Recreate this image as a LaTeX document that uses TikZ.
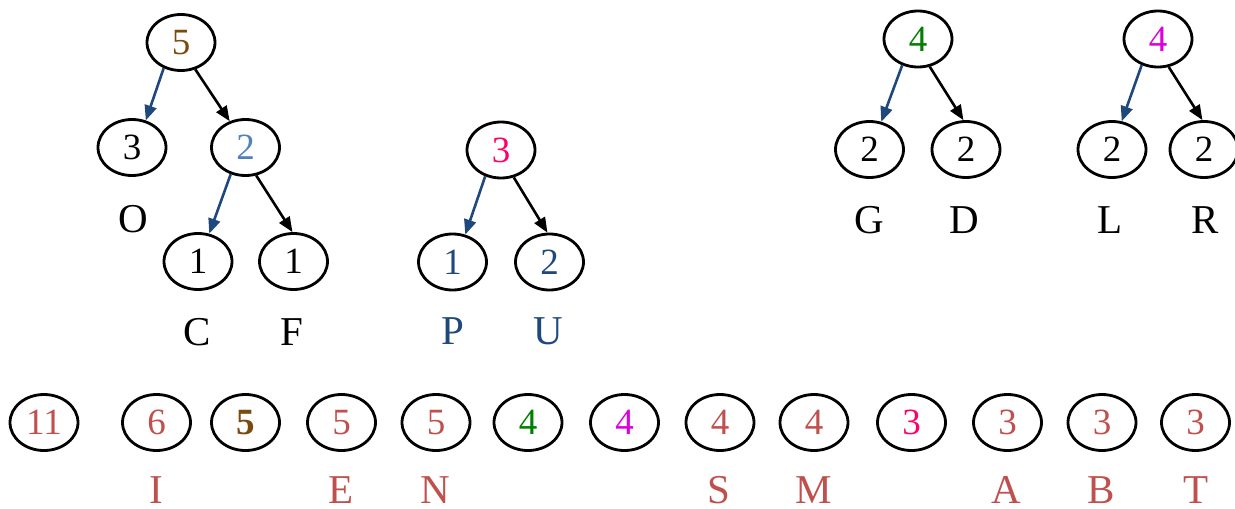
\documentclass[tikz,border=0pt]{standalone}
\usepackage{fontspec}
\setmainfont{Liberation Serif}
\usetikzlibrary{arrows.meta,shapes.geometric}

\definecolor{wred}{HTML}{C0504D}
\definecolor{wbrown}{HTML}{7A4A0F}
\definecolor{wpink}{HTML}{FF0066}
\definecolor{wgreen}{HTML}{008000}
\definecolor{wmagenta}{HTML}{DD00DD}
\definecolor{wlightblue}{HTML}{4F81BD}
\definecolor{wdarkblue}{HTML}{1F497D}

\tikzset{
  wnode/.style={ellipse, draw=black, line width=2.8pt, minimum width=68pt,
    minimum height=56pt, inner sep=0pt, font=\fontsize{37}{40}\selectfont},
  letter/.style={inner sep=0pt, font=\fontsize{41}{44}\selectfont},
  leftarr/.style={draw=wdarkblue, line width=2.6pt, -{Triangle[length=15pt,width=12pt]}},
  rightarr/.style={draw=black, line width=2.6pt, -{Triangle[length=15pt,width=12pt]}},
}

\begin{document}
\begin{tikzpicture}[x=1pt,y=-1pt]
\useasboundingbox (0,0) rectangle (1235,509);

% tree: 5 -> 3 (O), 2 -> 1 (C), 1 (F)
\node[wnode, text=wbrown] (a5) at (181,42.5) {5};
\node[wnode] (a3) at (132,147.5) {3};
\node[wnode, text=wlightblue] (a2) at (245.5,147.5) {2};
\node[wnode] (a1) at (198,261.5) {1};
\node[wnode] (b1) at (293.5,261.5) {1};
\node[letter] (lO) at (133,219) {O};
\node[letter] (lC) at (197,332.5) {C};
\node[letter] (lF) at (292,332.5) {F};
\draw[leftarr] (a5.236.8) -- (a3.63.8);
\draw[rightarr] (a5.298.6) -- (a2.121.2);
\draw[leftarr] (a2.241.8) -- (a1.68.2);
\draw[rightarr] (a2.291.4) -- (b1.92.6);

% tree: 3 -> 1 (P), 2 (U)
\node[wnode, text=wpink] (c3) at (501,150) {3};
\node[wnode, text=wdarkblue] (c1) at (452.5,262) {1};
\node[wnode, text=wdarkblue] (c2) at (549.5,262) {2};
\node[letter, text=wdarkblue] (lP) at (453,331) {P};
\node[letter, text=wdarkblue] (lU) at (548,331) {U};
\draw[leftarr] (c3.239.3) -- (c1.65.5);
\draw[rightarr] (c3.295.1) -- (c2.94.2);

% tree: 4 -> 2 (G), 2 (D)
\node[wnode, text=wgreen] (d4) at (918,39) {4};
\node[wnode] (d2a) at (869.5,149.5) {2};
\node[wnode] (d2b) at (966,149.5) {2};
\node[letter] (lG) at (869,220) {G};
\node[letter] (lD) at (964,220) {D};
\draw[leftarr] (d4.239.7) -- (d2a.67.4);
\draw[rightarr] (d4.293.3) -- (d2b.95.3);

% tree: 4 -> 2 (L), 2 (R)
\node[wnode, text=wmagenta] (e4) at (1158,39) {4};
\node[wnode] (e2a) at (1112,149.5) {2};
\node[wnode] (e2b) at (1204,149.5) {2};
\node[letter] (lL) at (1110,220) {L};
\node[letter] (lR) at (1205,220) {R};
\draw[leftarr] (e4.238.4) -- (e2a.71.3);
\draw[rightarr] (e4.291.8) -- (e2b.93.5);

% bottom row of weights
\node[wnode, text=wred] (w11) at (44,422.5) {11};
\node[wnode, text=wred] (wI) at (156.5,422.5) {6};
\node[wnode, text=wbrown] (w5b) at (245.5,422.5) {\bfseries 5};
\node[wnode, text=wred] (wE) at (341.5,422.5) {5};
\node[wnode, text=wred] (wN) at (436,422.5) {5};
\node[wnode, text=wgreen] (w4g) at (528,422.5) {4};
\node[wnode, text=wmagenta] (w4m) at (624.5,422.5) {4};
\node[wnode, text=wred] (wS) at (720,422.5) {4};
\node[wnode, text=wred] (wM) at (814,422.5) {4};
\node[wnode, text=wpink] (w3p) at (911.5,422.5) {3};
\node[wnode, text=wred] (wA) at (1007.5,422.5) {3};
\node[wnode, text=wred] (wB) at (1102,422.5) {3};
\node[wnode, text=wred] (wT) at (1195.5,422.5) {3};

\node[letter, text=wred] (lI) at (156,490) {I};
\node[letter, text=wred] (lE) at (341,490) {E};
\node[letter, text=wred] (lN) at (435,490) {N};
\node[letter, text=wred] (lS) at (719,490) {S};
\node[letter, text=wred] (lM) at (814,490) {M};
\node[letter, text=wred] (lA) at (1006,490) {A};
\node[letter, text=wred] (lB) at (1101,490) {B};
\node[letter, text=wred] (lT) at (1196,490) {T};
\end{tikzpicture}
\end{document}
